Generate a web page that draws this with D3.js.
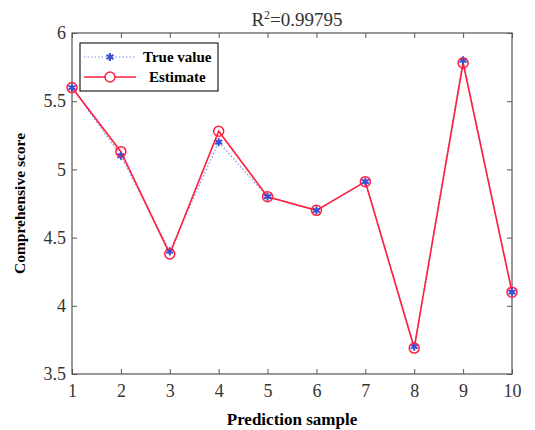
<!DOCTYPE html>
<html>
<head>
<meta charset="utf-8">
<script src="https://cdn.jsdelivr.net/npm/d3@7"></script>
<style>
  body { margin: 0; background: #fff; }
  text { font-family: "Liberation Serif", "Times New Roman", serif; }
</style>
</head>
<body>
<div id="chart"></div>
<script>
const samples = [1, 2, 3, 4, 5, 6, 7, 8, 9, 10];
const trueValues = [5.6, 5.1, 4.4, 5.2, 4.8, 4.7, 4.91, 3.7, 5.8, 4.1];
const estimates = [5.6, 5.13, 4.38, 5.28, 4.8, 4.7, 4.91, 3.69, 5.78, 4.1];
const yTicks = [3.5, 4, 4.5, 5, 5.5, 6];

const margin = { top: 33, right: 23, bottom: 56, left: 72 };
const width = 535 - margin.left - margin.right;
const height = 430 - margin.top - margin.bottom;

const svg = d3.select("#chart")
  .append("svg")
    .attr("width", width + margin.left + margin.right)
    .attr("height", height + margin.top + margin.bottom)
  .append("g")
    .attr("transform", `translate(${margin.left},${margin.top})`);

const x = d3.scaleLinear().domain([1, 10]).range([0, width]);
const y = d3.scaleLinear().domain([3.5, 6]).range([height, 0]);

const axisColor = "#555";
const tickLen = 5;

// axes (ticks inward, on all four sides)
const styleAxis = g => {
  g.select(".domain").remove();
  g.selectAll("line").attr("stroke", axisColor);
  g.selectAll("text")
    .attr("fill", "#333")
    .style("font-size", "18px");
};

svg.append("g")
  .attr("transform", `translate(0,${height})`)
  .call(d3.axisBottom(x).tickValues(samples).tickSizeInner(-tickLen).tickSizeOuter(0).tickPadding(10).tickFormat(d3.format("d")))
  .call(styleAxis);

svg.append("g")
  .call(d3.axisTop(x).tickValues(samples).tickSizeInner(-tickLen).tickSizeOuter(0).tickFormat(""))
  .call(styleAxis);

svg.append("g")
  .call(d3.axisLeft(y).tickValues(yTicks).tickSizeInner(-tickLen).tickSizeOuter(0).tickPadding(6).tickFormat(d => d))
  .call(styleAxis);

svg.append("g")
  .attr("transform", `translate(${width},0)`)
  .call(d3.axisRight(y).tickValues(yTicks).tickSizeInner(-tickLen).tickSizeOuter(0).tickFormat(""))
  .call(styleAxis);

// frame
svg.append("rect")
  .attr("width", width)
  .attr("height", height)
  .attr("fill", "none")
  .attr("stroke", axisColor)
  .attr("stroke-width", 1.2);

const blue = "#3a4fd8";
const red = "#ff1f3d";

const lineGen = d3.line().x((d, i) => x(samples[i])).y(d => y(d));

svg.append("path")
  .datum(trueValues)
  .attr("fill", "none")
  .attr("stroke", "#7f8ff0")
  .attr("stroke-width", 1.2)
  .attr("stroke-dasharray", "1.5,2")
  .attr("d", lineGen);

svg.append("path")
  .datum(estimates)
  .attr("fill", "none")
  .attr("stroke", red)
  .attr("stroke-width", 1.6)
  .attr("d", lineGen);

const star = d3.symbol().type(d3.symbolAsterisk).size(45);

svg.selectAll(".star")
  .data(trueValues)
  .enter()
  .append("path")
    .attr("class", "star")
    .attr("transform", (d, i) => `translate(${x(samples[i])},${y(d)})`)
    .attr("d", star)
    .attr("fill", "none")
    .attr("stroke", blue)
    .attr("stroke-width", 2);

svg.selectAll(".est")
  .data(estimates)
  .enter()
  .append("circle")
    .attr("class", "est")
    .attr("cx", (d, i) => x(samples[i]))
    .attr("cy", d => y(d))
    .attr("r", 5)
    .attr("fill", "none")
    .attr("stroke", red)
    .attr("stroke-width", 1.5);

// legend
const legend = svg.append("g").attr("transform", "translate(8,10)");
legend.append("rect")
  .attr("width", 138)
  .attr("height", 48)
  .attr("fill", "#fff")
  .attr("stroke", "#222")
  .attr("stroke-width", 1.2);

legend.append("line")
  .attr("x1", 4).attr("x2", 56).attr("y1", 14).attr("y2", 14)
  .attr("stroke", "#7f8ff0").attr("stroke-width", 1.2).attr("stroke-dasharray", "1.5,2");
legend.append("path")
  .attr("transform", "translate(30,14)")
  .attr("d", star)
  .attr("fill", "none")
  .attr("stroke", blue)
  .attr("stroke-width", 2);
legend.append("text")
  .attr("x", 63).attr("y", 19)
  .style("font-size", "15px").style("font-weight", "bold")
  .text("True value");

legend.append("line")
  .attr("x1", 4).attr("x2", 56).attr("y1", 34).attr("y2", 34)
  .attr("stroke", red).attr("stroke-width", 1.6);
legend.append("circle")
  .attr("cx", 30).attr("cy", 34).attr("r", 5)
  .attr("fill", "#fff").attr("stroke", red).attr("stroke-width", 1.5);
legend.append("text")
  .attr("x", 69).attr("y", 39)
  .style("font-size", "15px").style("font-weight", "bold")
  .text("Estimate");

// title
const title = svg.append("text")
  .attr("x", width / 2 + 5)
  .attr("y", -7)
  .attr("text-anchor", "middle")
  .attr("fill", "#333")
  .style("font-size", "19px");
title.append("tspan").text("R");
title.append("tspan").attr("dy", -7).style("font-size", "12px").text("2");
title.append("tspan").attr("dy", 7).text("=0.99795");

// axis labels
svg.append("text")
  .attr("x", width / 2)
  .attr("y", height + 51)
  .attr("text-anchor", "middle")
  .style("font-size", "17px")
  .style("font-weight", "bold")
  .text("Prediction sample");

svg.append("text")
  .attr("transform", "rotate(-90)")
  .attr("x", -height / 2)
  .attr("y", -47)
  .attr("text-anchor", "middle")
  .style("font-size", "15.5px")
  .style("font-weight", "bold")
  .text("Comprehensive score");
</script>
</body>
</html>
